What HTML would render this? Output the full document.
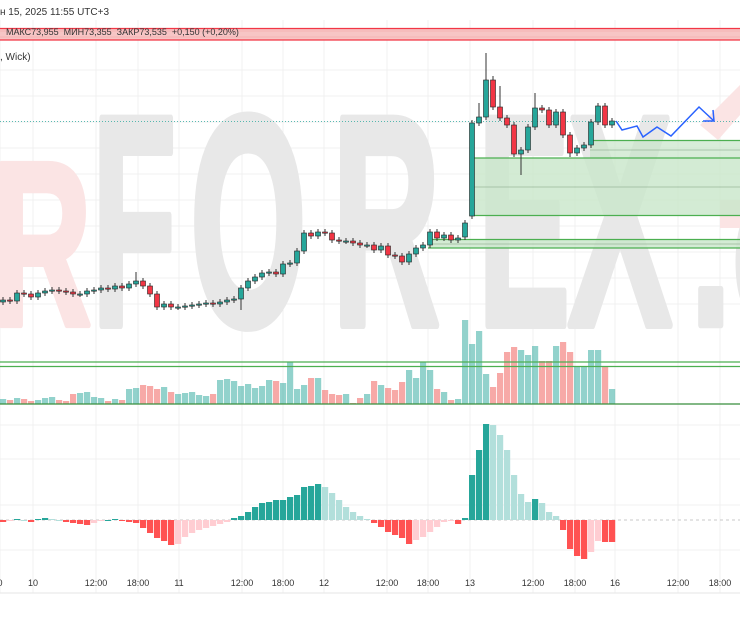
<!DOCTYPE html>
<html><head><meta charset="utf-8"><style>
html,body{margin:0;padding:0;background:#fff;width:740px;height:620px;overflow:hidden}
svg{display:block;font-family:"Liberation Sans","DejaVu Sans",sans-serif}
</style></head><body>
<svg id="s" width="740" height="620" viewBox="0 0 740 620" xmlns="http://www.w3.org/2000/svg">
<rect width="740" height="620" fill="#fff"/>
<g id="grid" stroke="#f0f0f0" stroke-width="1"></g>
<!-- watermark -->
<g font-weight="bold" font-size="300" stroke-width="8" stroke-linejoin="round">
<text transform="translate(-8,325) scale(0.46,0.78)" fill="#fbe4e4" stroke="#fbe4e4">R</text>
<text transform="translate(92,325) scale(0.46,1)" fill="#e8e8e8" stroke="#e8e8e8">F</text>
<text transform="translate(190,325) scale(0.5,1)" fill="#e8e8e8" stroke="#e8e8e8">O</text>
<text transform="translate(332,325) scale(0.5,1)" fill="#e8e8e8" stroke="#e8e8e8">R</text>
<text transform="translate(478,325) scale(0.46,1)" fill="#e8e8e8" stroke="#e8e8e8">E</text>
<text transform="translate(568,325) scale(0.52,1)" fill="#e8e8e8" stroke="#e8e8e8">X</text>
<text transform="translate(690,325) scale(0.5,0.8)" fill="#e8e8e8" stroke="#e8e8e8">.c</text>
</g>
<polygon points="700,125 740,85 740,115 718,140" fill="#fbe4e4"/>
<rect x="720" y="200" width="20" height="28" fill="#fbe4e4"/>
<!-- header -->
<rect x="0" y="0" width="740" height="20" fill="#fff"/>
<text x="0" y="15" font-size="10" fill="#333">н 15, 2025 11:55 UTC+3</text>
<rect x="0" y="28" width="740" height="12" fill="#f7c5c5"/>
<line x1="0" y1="28.5" x2="740" y2="28.5" stroke="#f23645" stroke-width="1.3"/>
<line x1="0" y1="40" x2="740" y2="40" stroke="#f23645" stroke-width="1.3"/>
<line x1="0" y1="31" x2="740" y2="31" stroke="#f5a0a0" stroke-width="0.6"/>
<line x1="0" y1="37" x2="740" y2="37" stroke="#f5a0a0" stroke-width="0.6"/>
<text x="6" y="35" font-size="9" fill="#333" xml:space="preserve">МАКС73,955  МИН73,355  ЗАКР73,535  +0,150 (+0,20%)</text>
<text x="0" y="60" font-size="10" fill="#333">, Wick)</text>
<line x1="0" y1="121.5" x2="740" y2="121.5" stroke="#26a69a" stroke-width="0.8" stroke-dasharray="1,2"/>
<!-- zones -->
<rect x="590" y="140" width="150" height="18" fill="#c8e6c9" fill-opacity="0.7"/>
<rect x="470" y="158" width="270" height="57" fill="#c8e6c9" fill-opacity="0.8"/>
<line x1="590" y1="140.5" x2="740" y2="140.5" stroke="#4caf50" stroke-width="1.2"/>
<line x1="590" y1="150" x2="740" y2="150" stroke="#9ab79a" stroke-width="0.8"/>
<line x1="470" y1="158" x2="740" y2="158" stroke="#4caf50" stroke-width="1.2"/>
<line x1="470" y1="187" x2="740" y2="187" stroke="#9ab79a" stroke-width="0.8"/>
<line x1="470" y1="215.5" x2="740" y2="215.5" stroke="#4caf50" stroke-width="1.2"/>
<rect x="428" y="239" width="312" height="9" fill="#c8e6c9" fill-opacity="0.8"/>
<line x1="428" y1="239.5" x2="740" y2="239.5" stroke="#4caf50" stroke-width="1.2"/>
<line x1="428" y1="244" x2="740" y2="244" stroke="#9ab79a" stroke-width="0.7"/>
<line x1="428" y1="248" x2="740" y2="248" stroke="#4caf50" stroke-width="1.2"/>
<g id="c"></g>
<polyline points="616,121 622,130 637,126 643,137 657,127 671,136 699,107 714,121" fill="none" stroke="#2962ff" stroke-width="1.5"/>
<polyline points="713,110 714,121 703,121" fill="none" stroke="#2962ff" stroke-width="1.5"/>
<!-- volume -->
<g id="v"></g>
<line x1="0" y1="362" x2="740" y2="362" stroke="#4caf50" stroke-width="1.3"/>
<line x1="0" y1="366.5" x2="740" y2="366.5" stroke="#4caf50" stroke-width="1.3"/>
<line x1="0" y1="404" x2="740" y2="404" stroke="#388e3c" stroke-width="1.2"/>
<!-- macd -->
<line x1="0" y1="520" x2="740" y2="520" stroke="#c8c8c8" stroke-dasharray="3,3"/>
<g id="m"></g>
<line x1="0" y1="593" x2="740" y2="593" stroke="#e6e6e6"/>
<g id="t" font-size="9" fill="#333" text-anchor="middle"></g>
</svg>
<script>
const NS="http://www.w3.org/2000/svg";
function el(p,t,a){const e=document.createElementNS(NS,t);for(const k in a)e.setAttribute(k,a[k]);document.getElementById(p).appendChild(e);return e;}
const tx=[[0,"0"],[33,"10"],[96,"12:00"],[138,"18:00"],[179,"11"],[242,"12:00"],[283,"18:00"],[324,"12"],[387,"12:00"],[428,"18:00"],[470,"13"],[533,"12:00"],[575,"18:00"],[615,"16"],[678,"12:00"],[720,"18:00"]];
tx.forEach(([x,l])=>{el("grid","line",{x1:x,y1:20,x2:x,y2:593});const t=el("t","text",{x:x,y:586});t.textContent=l;});
for(let y=70;y<330;y+=26)el("grid","line",{x1:0,y1:y,x2:740,y2:y});
[425,459,505,550].forEach(y=>el("grid","line",{x1:0,y1:y,x2:740,y2:y}));
const C=[300,301,293,294,297,293,291,290,291,292,294,294,291,290,288,289,286,288,284,281,286,294,307,304,307,307,306,305,304,303,304,302,300,299,288,281,277,273,272,274,264,263,251,233,236,232,233,240,241,241,243,245,245,250,246,255,256,262,254,248,245,232,238,235,240,238,223,123,117,80,107,118,125,154,150,127,108,110,125,112,135,153,148,145,122,106,125,121];
const O=C.map((c,i)=>i?C[i-1]:302);O[67]=216;O[66]=237;
const H={19:272,69:53,70:76,74:175,76:93,34:310,68:103,71:86,81:157};
const V=[399,400,398,399,401,400,398,397,400,401,394,393,392,397,398,401,399,400,389,388,385,386,389,387,392,394,393,392,395,396,394,380,379,381,386,384,388,386,380,381,383,362,389,385,378,378,390,394,395,394,403,398,394,381,385,388,390,382,370,378,362,370,389,392,400,399,320,344,331,374,387,373,352,347,350,355,346,361,361,346,342,352,367,367,350,350,367,389];
const M=[522,521,519,520,522,519,518,519,520,522,523,524,525,523,521,520,519,521,522,523,528,533,538,541,545,544,537,533,530,528,526,524,522,518,516,512,507,503,502,500,500,497,495,487,486,484,487,493,500,507,512,516,519,523,527,532,535,538,544,540,537,532,527,522,521,524,518,475,450,424,425,435,450,475,494,502,499,503,512,516,530,549,556,559,552,541,542,542];
C.forEach((c,i)=>{
 const x=3+i*7,o=O[i],up=c<=o,top=Math.min(o,c),bot=Math.max(o,c);
 let hi=top-3,lo=bot+3;if(H[i]){if(H[i]<top)hi=H[i];else lo=H[i];}
 const col=up?"#26a69a":"#f23645";
 el("c","line",{x1:x,y1:hi,x2:x,y2:lo,stroke:"#333","stroke-width":1});
 el("c","rect",{x:x-2.5,y:top,width:5,height:Math.max(1.2,bot-top),fill:col,stroke:"#222","stroke-width":0.6});
 const vt=V[i]||400;
 el("v","rect",{x:x-3,y:vt,width:6.2,height:404-vt,fill:up?"#26a69a":"#ef5350","fill-opacity":0.5});
 const m=M[i],pm=i?M[i-1]:520;
 let mc;if(m<=520){mc=m<=pm?"#26a69a":"#b2dfdb";}else{mc=m>=pm?"#ff5252":"#ffcdd2";}
 el("m","rect",{x:x-3,y:Math.min(m,520),width:6.2,height:Math.max(1,Math.abs(m-520)),fill:mc});
});
</script>
</body></html>
